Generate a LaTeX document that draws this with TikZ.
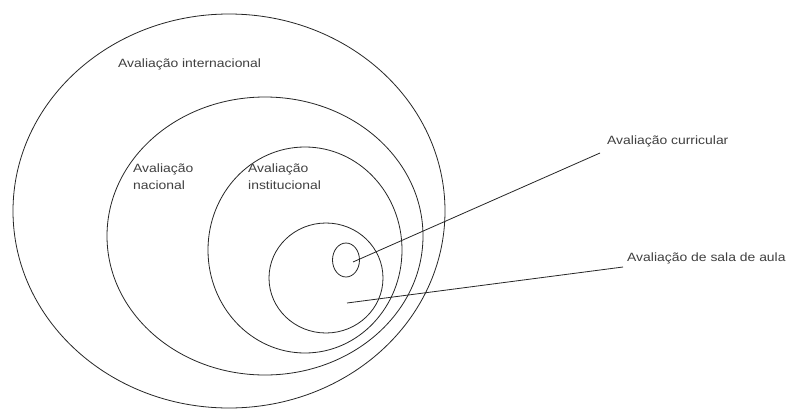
\documentclass[tikz,border=0pt]{standalone}
\usepackage{fontspec}
\newfontfamily\labfont[FakeStretch=1.16]{Liberation Sans}
\usetikzlibrary{shapes.geometric}
\begin{document}
\begin{tikzpicture}[x=1pt,y=-1pt,
  ring/.style={draw=black!85, line width=0.8pt, ellipse, inner sep=0pt},
  lab/.style={font=\labfont\fontsize{12}{17}\selectfont, text=black!75, inner sep=0pt, anchor=base west, align=left},
  leader/.style={draw=black!85, line width=0.8pt}]
\useasboundingbox[fill=white] (0,0) rectangle (790,410);
\node[ring, minimum width=432pt, minimum height=394pt] (intl) at (229,211) {};
\node[ring, minimum width=316pt, minimum height=278pt] (nac) at (265,236) {};
\node[ring, minimum width=194pt, minimum height=206pt] (inst) at (305,250) {};
\node[ring, minimum width=114pt, minimum height=110pt] (sala) at (326,278) {};
\node[ring, minimum width=27pt, minimum height=34pt] (curr) at (346,260) {};
\node[lab] (lintl) at (118,67) {Avaliação internacional};
\node[lab] (lnac) at (133,189) {Avaliação\\nacional};
\node[lab] (linst) at (248,189) {Avaliação\\institucional};
\node[lab] (lcurr) at (607,144) {Avaliação curricular};
\node[lab] (lsala) at (627,261) {Avaliação de sala de aula};
\coordinate (pcurr) at (353,262);
\coordinate (ecurr) at (600,153);
\coordinate (psala) at (347,303);
\coordinate (esala) at (623,267);
\draw[leader] (pcurr) -- (ecurr);
\draw[leader] (psala) -- (esala);
\end{tikzpicture}
\end{document}
